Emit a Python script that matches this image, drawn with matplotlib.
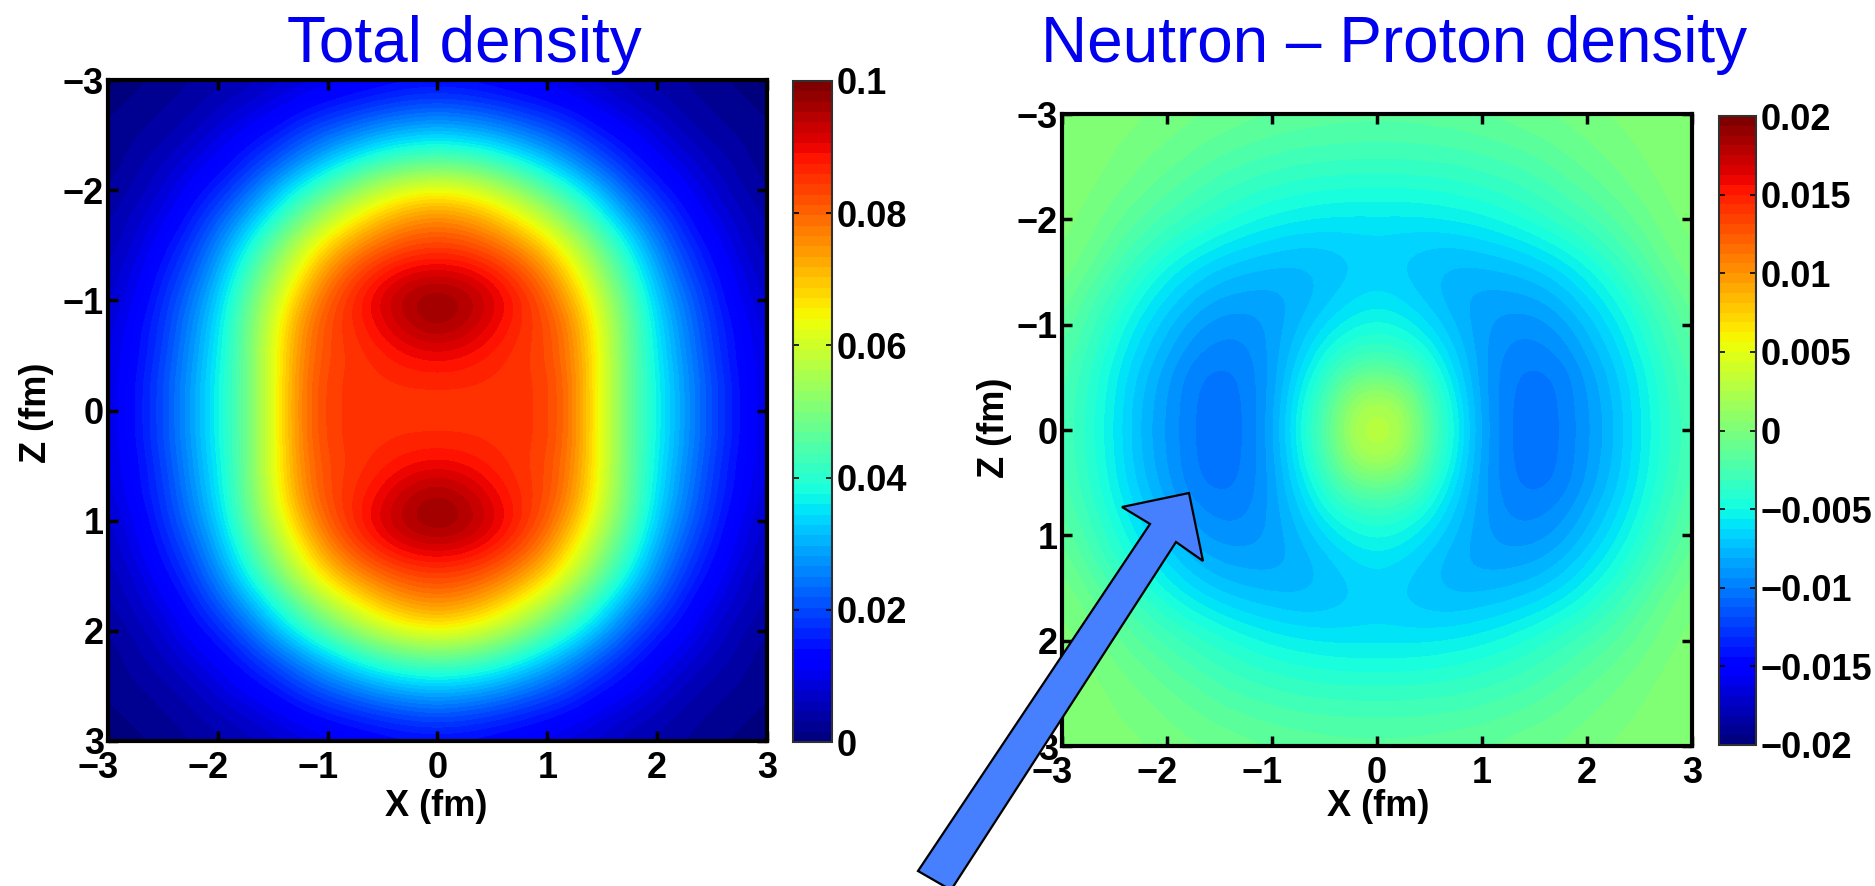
import numpy as np
import matplotlib
matplotlib.use('Agg')
import matplotlib.pyplot as plt
from matplotlib.patches import Polygon
from matplotlib.transforms import ScaledTranslation

# quadrant x = 0..3, z = 0..3 in 0.25 fm steps
# (both maps are symmetric, the other three quadrants are mirrored below)
total_density = [
    [.0850, .0850, .0850, .0850, .0840, .077, .062, .047, .037, .028, .020, .014, .009],
    [.0860, .0860, .0855, .0850, .0840, .077, .062, .047, .037, .028, .020, .014, .009],
    [.0900, .0890, .0870, .0850, .0830, .076, .062, .047, .036, .027, .019, .013, .009],
    [.0960, .0940, .0900, .0860, .0830, .075, .061, .047, .035, .026, .018, .013, .008],
    [.0980, .0960, .0920, .0870, .0810, .071, .058, .045, .033, .024, .017, .011, .007],
    [.0920, .0910, .0880, .0830, .0760, .065, .053, .041, .030, .021, .015, .010, .006],
    [.0840, .0830, .0800, .0750, .0680, .058, .047, .036, .026, .018, .013, .008, .005],
    [.0760, .0745, .0705, .0645, .0570, .048, .038, .029, .021, .015, .010, .007, .004],
    [.0640, .0625, .0585, .0525, .0455, .038, .030, .022, .016, .012, .008, .005, .003],
    [.0470, .0460, .0430, .0385, .0330, .027, .021, .016, .012, .009, .006, .004, .002],
    [.0330, .0320, .0300, .0265, .0230, .019, .015, .012, .009, .006, .004, .003, .002],
    [.0215, .0205, .0190, .0170, .0150, .013, .010, .008, .006, .004, .003, .002, .001],
    [.0130, .0130, .0120, .0110, .0100, .008, .007, .005, .004, .003, .002, .001, .001],
]
np_density = [
    [.0035, .0022, -.0020, -.0052, -.0084, -.0100, -.0107, -.0100, -.0089, -.0076, -.0057, -.0040, -.0024],
    [.0025, .0013, -.0025, -.0055, -.0085, -.0100, -.0105, -.0100, -.0088, -.0075, -.0056, -.0039, -.0023],
    [-.0005, -.0012, -.0037, -.0062, -.0086, -.0099, -.0103, -.0099, -.0086, -.0072, -.0054, -.0037, -.0021],
    [-.0033, -.0037, -.0050, -.0070, -.0086, -.0096, -.0097, -.0092, -.0080, -.0066, -.0049, -.0032, -.0018],
    [-.0048, -.0052, -.0063, -.0076, -.0086, -.0091, -.0091, -.0085, -.0073, -.0059, -.0043, -.0027, -.0013],
    [-.0060, -.0064, -.0072, -.0080, -.0084, -.0084, -.0082, -.0075, -.0063, -.0050, -.0035, -.0021, -.0007],
    [-.0066, -.0069, -.0074, -.0077, -.0077, -.0075, -.0071, -.0063, -.0052, -.0040, -.0026, -.0012, -.0002],
    [-.0065, -.0067, -.0069, -.0069, -.0066, -.0062, -.0056, -.0048, -.0039, -.0028, -.0017, -.0006, .0001],
    [-.0058, -.0058, -.0057, -.0055, -.0052, -.0047, -.0041, -.0034, -.0027, -.0019, -.0010, -.0002, .0003],
    [-.0046, -.0046, -.0045, -.0043, -.0040, -.0036, -.0031, -.0025, -.0018, -.0011, -.0005, .0001, .0004],
    [-.0034, -.0034, -.0033, -.0032, -.0029, -.0026, -.0022, -.0016, -.0011, -.0006, -.0001, .0003, .0005],
    [-.0024, -.0024, -.0023, -.0022, -.0020, -.0017, -.0014, -.0010, -.0006, -.0002, .0001, .0004, .0005],
    [-.0016, -.0016, -.0015, -.0014, -.0012, -.0010, -.0007, -.0005, -.0002, .0001, .0003, .0005, .0005],
]

axis_ticks = [-3, -2, -1, 0, 1, 2, 3]
axis_labels = ['−3', '−2', '−1', '0', '1', '2', '3']
total_ticks = [0, 0.02, 0.04, 0.06, 0.08, 0.1]
total_labels = ['0', '0.02', '0.04', '0.06', '0.08', '0.1']
np_ticks = [-0.02, -0.015, -0.01, -0.005, 0, 0.005, 0.01, 0.015, 0.02]
np_labels = ['−0.02', '−0.015', '−0.01', '−0.005', '0', '0.005', '0.01', '0.015', '0.02']

W, H = 1875, 886
plt.rcParams['font.family'] = ['Liberation Sans', 'DejaVu Sans']
fig = plt.figure(figsize=(W / 100, H / 100), dpi=100)


def box(left, top, right, bottom):
    return [left / W, 1 - bottom / H, (right - left) / W, (bottom - top) / H]


def mirror(quadrant):
    q = np.array(quadrant)
    q = np.hstack([q[:, :0:-1], q])
    return np.vstack([q[:0:-1], q])


def draw_map(values, vmin, vmax, ax_box, cb_box, cb_ticks, cb_labels):
    ax = fig.add_axes(box(*ax_box))
    im = ax.imshow(mirror(values), cmap=plt.get_cmap('jet', 64), vmin=vmin, vmax=vmax,
                   extent=(-3.125, 3.125, 3.125, -3.125), aspect='auto',
                   interpolation='bicubic', interpolation_stage='data')
    ax.set_xlim(-3, 3)
    ax.set_ylim(3, -3)
    ax.set_xticks(axis_ticks, axis_labels, fontsize=26, fontweight='bold')
    ax.set_yticks(axis_ticks, axis_labels, fontsize=26, fontweight='bold')
    ax.tick_params(axis='x', direction='in', length=7, width=2.5, top=True, pad=7)
    ax.tick_params(axis='y', direction='in', length=7, width=2.5, right=True, pad=3)
    for spine in ax.spines.values():
        spine.set_linewidth(3)
    # the minus sign hangs left of the tick in the original
    shift = ScaledTranslation(-10 / 100, 0, fig.dpi_scale_trans)
    for label, tick in zip(ax.get_xticklabels(), axis_ticks):
        if tick < 0:
            label.set_transform(label.get_transform() + shift)

    cax = fig.add_axes(box(*cb_box))
    cb = fig.colorbar(im, cax=cax)
    cb.set_ticks(cb_ticks, labels=cb_labels)
    cax.tick_params(direction='in', length=4, width=1.2, left=True, right=True, pad=3)
    for label in cax.get_yticklabels():
        label.set_fontsize(26)
        label.set_fontweight('bold')
    cb.outline.set_linewidth(1.5)
    cb.outline.set_edgecolor('#303030')


draw_map(total_density, 0, 0.1, (108, 80, 767, 741), (793, 81, 832, 742), total_ticks, total_labels)
draw_map(np_density, -0.02, 0.02, (1062, 114, 1692, 746), (1719, 116, 1756, 745), np_ticks, np_labels)

fig.text(464 / W, 1 - 62 / H, 'Total density', color='#0000EE', fontsize=46, ha='center', va='baseline')
fig.text(1394 / W, 1 - 62 / H, 'Neutron – Proton density', color='#0000EE', fontsize=46, ha='center', va='baseline')
fig.text(436 / W, 1 - 807 / H, 'X (fm)', fontsize=26, fontweight='bold', ha='center', va='center')
fig.text(1378 / W, 1 - 807 / H, 'X (fm)', fontsize=26, fontweight='bold', ha='center', va='center')
fig.text(36 / W, 1 - 413 / H, 'Z (fm)', fontsize=26, fontweight='bold', rotation=90, ha='center', va='center')
fig.text(995 / W, 1 - 428 / H, 'Z (fm)', fontsize=26, fontweight='bold', rotation=90, ha='center', va='center')

# slide arrow drawn over the right panel, outline in pixels
arrow_px = [(1189, 493), (1122, 507), (1150, 524), (918, 871), (951, 890),
            (1176, 542), (1203, 561)]
fig.add_artist(Polygon([(x / W, 1 - y / H) for x, y in arrow_px], closed=True,
                       transform=fig.transFigure, facecolor='#4680FF', edgecolor='black',
                       linewidth=1.6, joinstyle='miter', zorder=10))

fig.savefig('out.png', dpi=100)
